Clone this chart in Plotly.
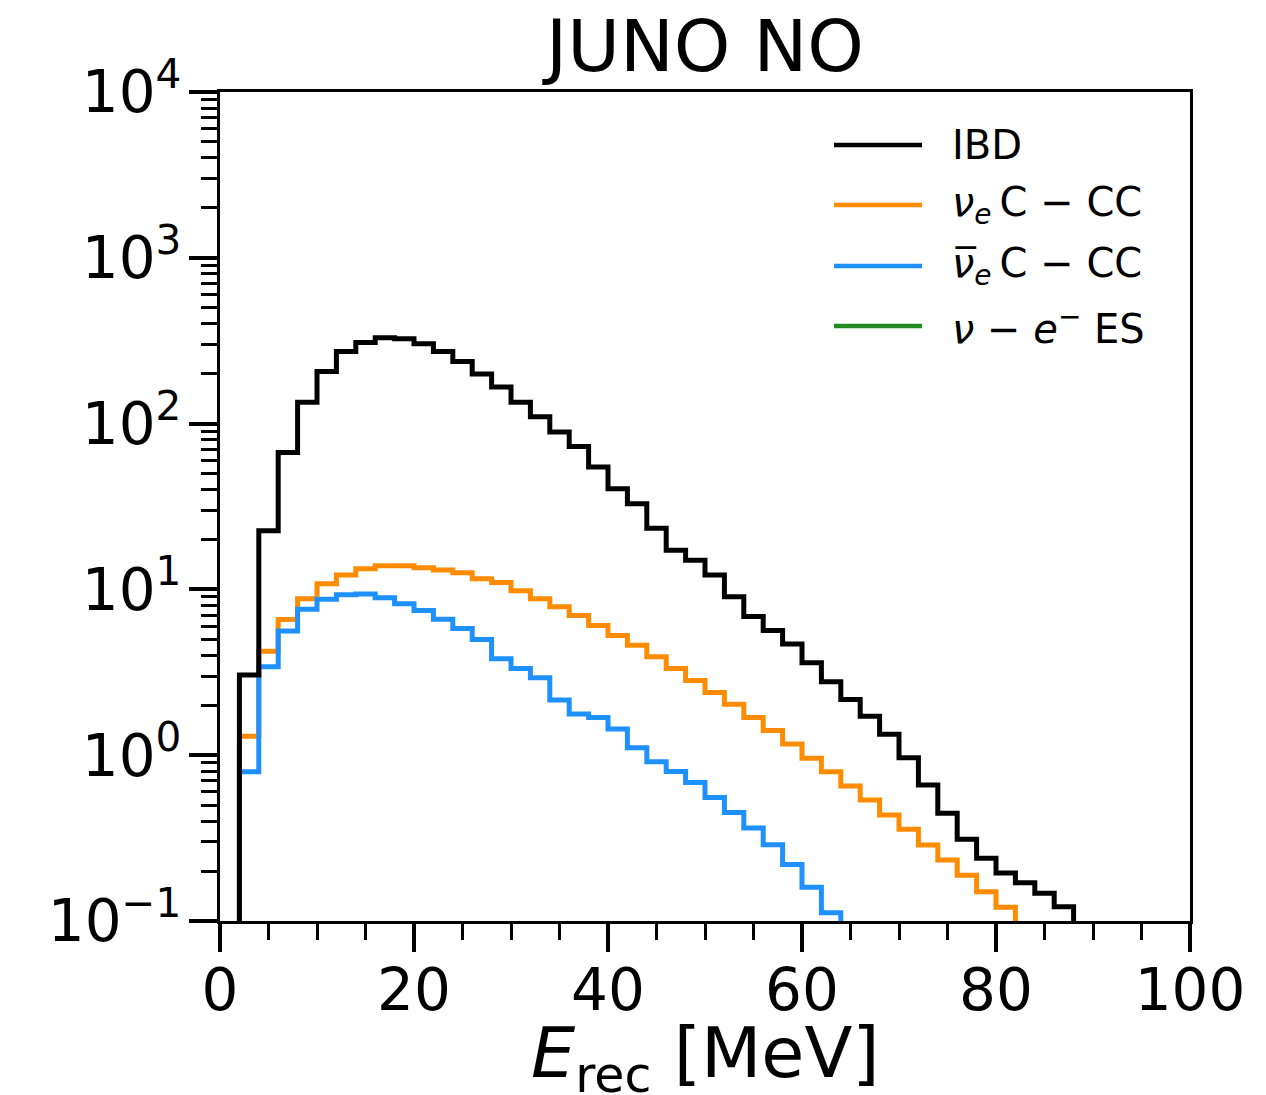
import plotly.graph_objects as go

# ---------------- data (2 MeV bins starting at 2 MeV) ----------------
bin_start = 2.0
bin_width = 2.0

ibd = [3.05, 22.6, 67, 134.6, 206, 272, 308, 329, 325, 303, 272, 237, 199, 166,
       134.6, 110, 89, 72.8, 54.7, 40.4, 32.8, 23.4, 17.2, 15.0, 12.2, 9.03, 6.87,
       5.66, 4.68, 3.61, 2.77, 2.17, 1.72, 1.34, 0.966, 0.66, 0.447, 0.311, 0.239,
       0.195, 0.170, 0.147, 0.122]

nue_c_cc = [1.30, 4.24, 6.58, 8.79, 10.8, 12.2, 13.3, 13.9, 13.9, 13.5, 13.1, 12.6,
            11.6, 11.0, 9.81, 8.79, 7.87, 6.95, 6.06, 5.28, 4.60, 3.92, 3.33, 2.82,
            2.39, 2.03, 1.69, 1.41, 1.17, 0.957, 0.796, 0.652, 0.537, 0.436, 0.357,
            0.287, 0.233, 0.189, 0.150, 0.121]

nuebar_c_cc = [0.794, 3.42, 5.61, 7.59, 8.71, 9.29, 9.39, 8.91, 8.18, 7.46, 6.61,
               5.82, 4.99, 3.82, 3.33, 2.93, 2.15, 1.77, 1.69, 1.44, 1.11, 0.912,
               0.798, 0.684, 0.556, 0.451, 0.364, 0.288, 0.219, 0.160, 0.112]

nu_e_es = []  # entirely below the displayed range

labels = ["IBD",
          "<i>ν<sub>e</sub></i>\u2009C − CC",
          "<i>ν̅<sub>e</sub></i>\u2009C − CC",
          "<i>ν</i> − <i>e</i><sup>−</sup> ES"]
colors = ["#000000", "#FF8C00", "#1E90FF", "#228B22"]

x_title = "<i>E</i><sub>rec</sub> [MeV]"
x_ticks = [0, 20, 40, 60, 80, 100]
y_tickvals = [0.1, 1, 10, 100, 1000, 10000]
y_ticktext = ["10<sup>−1</sup>", "10<sup>0</sup>", "10<sup>1</sup>",
              "10<sup>2</sup>", "10<sup>3</sup>", "10<sup>4</sup>"]

FLOOR = 1e-4  # below axis range: closes histogram outline


def step_xy(vals):
    if not vals:
        return [], []
    edges = [bin_start + i * bin_width for i in range(len(vals) + 1)]
    xs = [edges[0]] + edges[:-1] + [edges[-1], edges[-1]]
    ys = [FLOOR] + list(vals) + [vals[-1], FLOOR]
    return xs, ys


fig = go.Figure()
series = [nue_c_cc, nuebar_c_cc, nu_e_es, ibd]
order = [1, 2, 3, 0]
for s, k in zip(series, order):
    xs, ys = step_xy(s)
    fig.add_trace(go.Scatter(x=xs, y=ys, mode="lines", line_shape="hv",
                             line=dict(color=colors[k], width=5),
                             name=labels[k], showlegend=False))

# minor ticks for the log axis
minor_y = []
for d in range(-1, 4):
    for m in range(2, 10):
        minor_y.append(m * 10 ** d)

FONT = "DejaVu Sans"
fig.update_layout(
    width=1266, height=1095,
    margin=dict(l=220, r=76, t=92, b=174),
    paper_bgcolor="white", plot_bgcolor="white",
    font=dict(family=FONT, color="black"),
    title=dict(text="JUNO NO", font=dict(size=72, family=FONT, color="black"),
               x=(220 + 1190) / 2 / 1266, xanchor="center",
               yref="container", y=1 - 46 / 1095, yanchor="middle"),
    showlegend=False,
)

fig.update_xaxes(
    range=[0, 100], tickvals=x_ticks, ticktext=[str(v) for v in x_ticks],
    ticks="outside", ticklen=28, tickwidth=3.5, tickcolor="black",
    showline=True, linewidth=3, linecolor="black", mirror=True,
    showgrid=False, zeroline=False, automargin=False,
    ticklabelstandoff=-12,
    tickfont=dict(size=58, family=FONT),
    minor=dict(dtick=5, ticks="outside", ticklen=16, tickwidth=3, tickcolor="black",
               showgrid=False),
)
fig.update_yaxes(
    type="log", range=[-1, 4],
    tickmode="array", tickvals=y_tickvals, ticktext=y_ticktext,
    ticks="outside", ticklen=28, tickwidth=3.5, tickcolor="black",
    showline=True, linewidth=3, linecolor="black", mirror=True,
    showgrid=False, zeroline=False, automargin=False,
    ticklabelstandoff=-4,
    tickfont=dict(size=58, family=FONT),
    minor=dict(tickmode="array", tickvals=minor_y, ticks="outside", ticklen=16,
               tickwidth=2.5, tickcolor="black", showgrid=False),
)


def px_to_paper(px, py):
    return (px - 220) / 970, (921 - py) / 829


# x-axis title as an annotation (precise placement)
ax, ay = px_to_paper(705, 1058)
fig.add_annotation(xref="paper", yref="paper", x=ax, y=ay, xanchor="center",
                   yanchor="middle", text=x_title, showarrow=False,
                   font=dict(size=70, family=FONT, color="black"))

# manual legend (long sample lines like the reference)
legend_rows_y = [145, 205, 266, 326]
for k, py in enumerate(legend_rows_y):
    x0, y0 = px_to_paper(834, py)
    x1, _ = px_to_paper(922, py)
    fig.add_shape(type="line", xref="paper", yref="paper", x0=x0, x1=x1, y0=y0, y1=y0,
                  line=dict(color=colors[k], width=4.5))
    tx, ty = px_to_paper(950, py)
    fig.add_annotation(xref="paper", yref="paper", x=tx, y=ty, xanchor="left",
                       yanchor="middle", text=labels[k], showarrow=False,
                       font=dict(size=40, family=FONT, color="black"))

fig.write_html("out.html")
